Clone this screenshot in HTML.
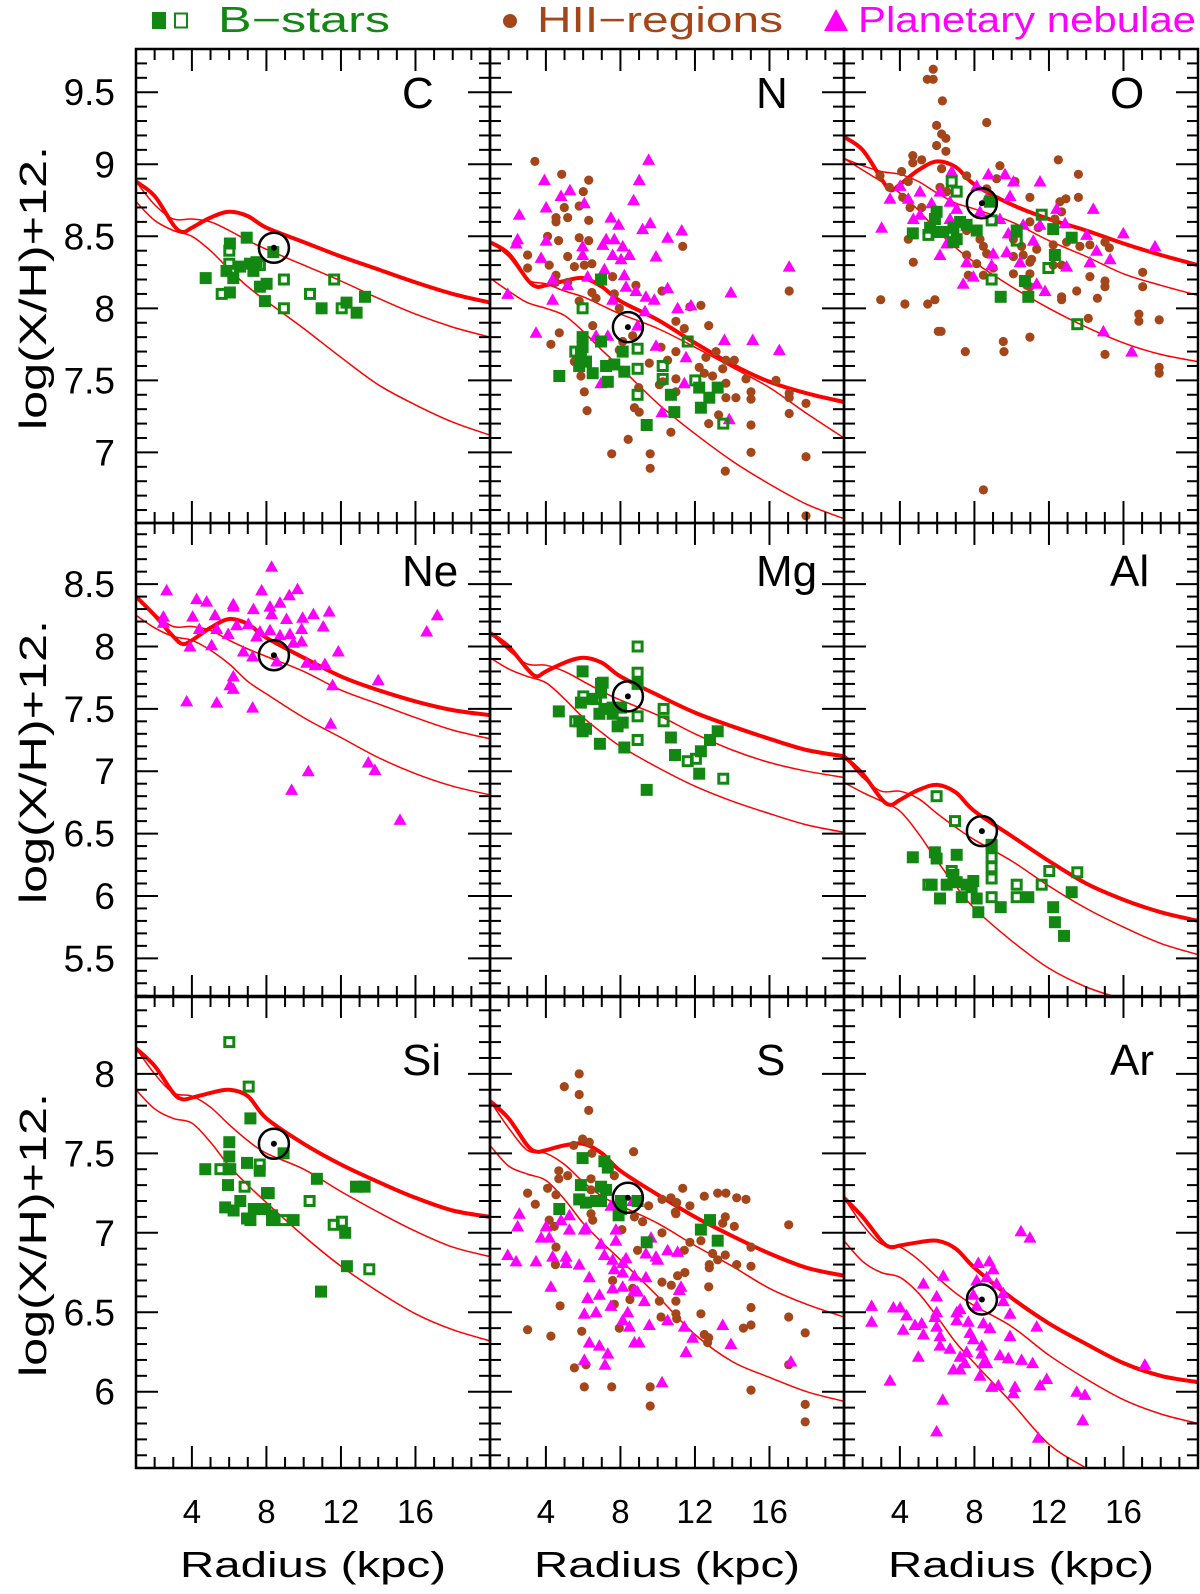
<!DOCTYPE html>
<html><head><meta charset="utf-8"><title>Galactic abundance gradients</title>
<style>
html,body{margin:0;padding:0;background:#fff;}
svg{display:block;font-family:"Liberation Sans",sans-serif;}
</style></head>
<body>
<svg id="chart" xmlns="http://www.w3.org/2000/svg" width="1200" height="1594" viewBox="0 0 1200 1594">
<rect x="0" y="0" width="1200" height="1594" fill="#fff"/>
<g>
  <g>
    <rect x="152" y="12" width="14" height="17" fill="#128812"/>
    <rect x="175" y="13.5" width="12" height="14" fill="none" stroke="#128812" stroke-width="2"/>
    <text x="218" y="32" font-size="36" fill="#128812" textLength="172" lengthAdjust="spacingAndGlyphs">B−stars</text>
  </g>
  <g>
    <circle cx="510" cy="21" r="7" fill="#a5461a"/>
    <text x="537" y="32" font-size="36" fill="#a5461a" textLength="246" lengthAdjust="spacingAndGlyphs">HII−regions</text>
  </g>
  <g>
    <polygon points="824,31 848,31 836,9" fill="#ff00ff"/>
    <text x="858" y="32" font-size="36" fill="#ff00ff" textLength="338" lengthAdjust="spacingAndGlyphs">Planetary nebulae</text>
  </g>
</g>
<g id="panels"></g>
</svg>
<script>
// ---------- model curve data ----------
const RADII_THICK = [1,2,3,3.5,4,5,6,7,8,10,12,14,16,18,20];
const RADII_THIN  = [1,2,3,4,5,6,7,8,10,12,14,16,18,20];

const C_THICK = [8.88,8.78,8.58,8.53,8.56,8.63,8.67,8.64,8.56,8.46,8.36,8.27,8.18,8.10,8.04];
const C_THIN1 = [8.88,8.72,8.62,8.62,8.60,8.54,8.47,8.41,8.30,8.19,8.07,7.96,7.87,7.80];
const C_THIN2 = [8.74,8.61,8.54,8.50,8.40,8.27,8.15,8.05,7.86,7.66,7.47,7.33,7.21,7.12];

const N_THICK = [8.46,8.38,8.20,8.15,8.16,8.19,8.21,8.15,8.05,7.92,7.76,7.61,7.49,7.41,7.35];
const N_THIN1 = [8.46,8.36,8.20,8.17,8.12,8.08,8.02,7.96,7.86,7.73,7.59,7.45,7.27,7.10];
const N_THIN2 = [8.21,8.12,8.04,8.00,7.95,7.84,7.71,7.59,7.34,7.13,6.94,6.78,6.64,6.54];

const O_THICK = [9.19,9.10,8.90,8.82,8.86,8.96,9.02,8.98,8.86,8.72,8.62,8.54,8.45,8.37,8.30];
const O_THIN1 = [9.04,8.99,8.95,8.93,8.88,8.80,8.73,8.69,8.60,8.47,8.36,8.24,8.16,8.09];
const O_THIN2 = [9.04,8.96,8.88,8.80,8.68,8.54,8.42,8.32,8.15,8.00,7.87,7.76,7.68,7.63];

const NE_THICK = [8.40,8.25,8.08,8.02,8.05,8.15,8.22,8.18,8.07,7.91,7.76,7.65,7.56,7.49,7.45];
const NE_THIN1 = [8.40,8.26,8.16,8.16,8.13,8.05,7.98,7.92,7.80,7.65,7.54,7.43,7.33,7.26];
const NE_THIN2 = [8.25,8.15,8.08,8.05,7.97,7.86,7.72,7.62,7.43,7.27,7.11,6.98,6.88,6.81];

const MG_THICK = [8.11,8.00,7.82,7.76,7.80,7.87,7.91,7.87,7.76,7.61,7.47,7.36,7.26,7.17,7.12];
const MG_THIN1 = [8.11,7.97,7.86,7.85,7.80,7.72,7.64,7.57,7.45,7.30,7.17,7.07,7.00,6.95];
const MG_THIN2 = [7.91,7.82,7.76,7.71,7.58,7.43,7.31,7.20,7.03,6.88,6.76,6.66,6.57,6.51];

const AL_THICK = [7.12,6.98,6.78,6.73,6.77,6.85,6.89,6.83,6.68,6.48,6.28,6.10,5.97,5.87,5.80];
const AL_THIN1 = [7.12,6.95,6.84,6.84,6.78,6.66,6.55,6.45,6.28,6.08,5.90,5.75,5.62,5.53];
const AL_THIN2 = [6.91,6.83,6.76,6.68,6.50,6.28,6.08,5.90,5.64,5.42,5.27,5.17,5.07,4.98];

const SI_THICK = [8.16,8.05,7.88,7.84,7.85,7.88,7.90,7.86,7.72,7.56,7.43,7.32,7.22,7.14,7.10];
const SI_THIN1 = [8.16,8.00,7.88,7.86,7.79,7.68,7.58,7.50,7.40,7.26,7.13,7.01,6.91,6.85];
const SI_THIN2 = [7.90,7.78,7.72,7.69,7.57,7.42,7.30,7.19,6.98,6.79,6.63,6.49,6.39,6.32];

const S_THICK = [7.83,7.72,7.55,7.51,7.52,7.55,7.56,7.50,7.39,7.24,7.10,6.98,6.87,6.78,6.73];
const S_THIN1 = [7.83,7.66,7.52,7.50,7.43,7.32,7.23,7.17,7.06,6.92,6.79,6.65,6.55,6.47];
const S_THIN2 = [7.55,7.42,7.37,7.33,7.21,7.06,6.94,6.83,6.60,6.36,6.19,6.09,6.00,5.94];

const AR_THICK = [7.22,7.10,6.95,6.91,6.92,6.94,6.95,6.90,6.78,6.59,6.43,6.30,6.18,6.10,6.06];
const AR_THIN1 = [7.22,7.05,6.93,6.91,6.83,6.72,6.62,6.54,6.41,6.23,6.08,5.95,5.86,5.80];
const AR_THIN2 = [6.95,6.82,6.75,6.72,6.62,6.47,6.31,6.18,5.93,5.67,5.52,5.40,5.30,5.22];

// ---------- solar values [radius, abundance] ----------
const SUN_C = [8.4,8.42], SUN_N = [8.4,7.87], SUN_O = [8.4,8.73];
const SUN_NE = [8.4,7.93], SUN_MG = [8.4,7.60], SUN_AL = [8.4,6.52];
const SUN_SI = [8.4,7.56], SUN_S = [8.4,7.22], SUN_AR = [8.4,6.58];

// ---------- observations [radius, abundance] ----------
const C_BFILL = [[4.74,8.21],[6.94,8.49],[6.04,8.45],[5.86,8.26],[6.22,8.21],[6.58,8.29],[7.12,8.31],[7.30,8.26],[7.47,8.32],[7.65,8.15],[8.01,8.17],[7.92,8.05],[8.37,8.39],[10.96,8.00],[12.30,8.04],[12.84,7.97],[13.29,8.08],[6.04,8.11]];
const C_BOPEN = [[6.01,8.40],[6.01,8.31],[5.60,8.10],[7.65,8.30],[8.94,8.20],[8.94,8.00],[10.34,8.10],[11.64,8.20],[12.04,8.00]];

const N_HII = [[3.41,9.02],[4.85,8.93],[6.30,8.89],[6.01,8.81],[4.99,8.70],[5.79,8.71],[4.54,8.63],[5.17,8.63],[4.54,8.60],[6.30,8.61],[4.09,8.50],[4.68,8.47],[5.79,8.49],[6.30,8.47],[3.02,8.37],[5.17,8.36],[3.02,8.28],[4.18,8.30],[5.53,8.29],[6.06,8.30],[6.47,8.31],[4.54,8.23],[4.51,8.18],[5.17,8.18],[7.58,8.22],[6.47,8.11],[6.69,8.07],[5.79,8.05],[7.67,8.10],[8.83,8.16],[10.23,8.12],[11.34,8.43],[11.73,8.01],[12.32,8.02],[7.94,8.00],[6.51,7.88],[4.72,7.83],[4.27,7.75],[10.98,7.91],[11.43,7.86],[12.74,7.88],[10.18,7.73],[10.98,7.70],[10.53,7.64],[9.55,7.62],[5.97,7.62],[5.53,7.63],[5.88,7.53],[8.12,7.57],[7.94,7.71],[8.12,7.77],[8.66,7.81],[12.59,7.66],[13.13,7.70],[13.66,7.64],[14.11,7.64],[12.23,7.59],[12.50,7.55],[12.95,7.53],[13.49,7.58],[13.66,7.48],[14.74,7.51],[10.27,7.49],[10.98,7.51],[10.09,7.47],[10.98,7.42],[10.71,7.40],[8.98,7.45],[6.06,7.42],[6.21,7.29],[8.75,7.31],[9.01,7.28],[13.66,7.38],[14.20,7.38],[15.01,7.42],[15.01,7.37],[16.35,7.50],[17.06,7.41],[17.06,7.38],[17.96,7.34],[13.27,7.26],[12.74,7.20],[15.01,7.19],[17.06,7.27],[17.06,8.12],[10.71,7.14],[8.42,7.09],[7.53,6.99],[9.60,6.99],[9.60,6.89],[13.63,6.87],[15.01,7.00],[17.96,6.97],[17.96,6.56]];
const N_PN = [[9.51,9.03],[3.92,8.89],[9.01,8.89],[5.29,8.82],[4.81,8.78],[4.01,8.70],[6.06,8.73],[8.71,8.75],[2.57,8.65],[7.49,8.63],[7.90,8.58],[9.19,8.55],[9.60,8.59],[11.29,8.54],[10.53,8.49],[2.48,8.48],[2.40,8.45],[3.74,8.35],[5.97,8.43],[7.23,8.48],[7.67,8.48],[7.05,8.44],[8.12,8.43],[5.97,8.37],[7.58,8.37],[8.48,8.37],[8.03,8.34],[9.91,8.36],[4.01,8.47],[5.17,8.16],[4.36,8.06],[7.14,8.27],[8.21,8.23],[8.30,8.15],[8.83,8.12],[10.53,8.14],[13.93,8.11],[1.95,8.10],[7.58,8.06],[9.37,8.08],[9.82,8.06],[11.07,8.00],[11.79,8.02],[9.32,7.98],[17.06,8.29],[3.47,7.83],[6.69,7.81],[7.32,7.81],[9.91,7.74],[11.52,7.66],[13.58,7.78],[15.10,7.78],[16.53,7.71],[6.96,7.48],[11.43,7.48],[10.23,7.28],[13.84,7.23],[8.92,7.88],[4.36,8.20],[6.24,8.22]];
const N_BFILL = [[5.97,7.80],[5.97,7.73],[5.88,7.68],[6.96,7.77],[6.15,7.63],[5.79,7.60],[6.51,7.55],[7.23,7.60],[7.67,7.61],[8.21,7.56],[4.72,7.53],[7.32,7.49],[10.71,7.40],[12.23,7.45],[13.22,7.45],[12.77,7.38],[12.32,7.31],[10.89,7.28],[9.41,7.19],[6.96,8.20],[8.12,7.70]];
const N_BOPEN = [[5.97,8.00],[6.96,8.20],[5.58,7.70],[8.92,7.72],[8.92,7.58],[8.92,7.40],[10.27,7.60],[10.27,7.51],[11.61,7.77],[12.02,7.50],[13.52,7.20]];

const O_HII = [[5.79,9.66],[5.47,9.59],[5.79,9.59],[6.28,9.44],[5.97,9.27],[6.24,9.21],[6.47,9.18],[5.97,9.13],[6.47,9.09],[8.66,9.29],[12.50,9.03],[4.69,9.06],[4.69,9.01],[5.17,9.03],[9.37,8.99],[13.58,8.93],[4.09,8.95],[2.93,8.92],[6.24,8.97],[7.58,8.92],[9.19,8.90],[10.18,8.88],[3.43,8.84],[4.45,8.88],[6.15,8.84],[6.51,8.81],[8.66,8.83],[10.98,8.77],[12.59,8.74],[12.91,8.76],[13.58,8.77],[4.15,8.77],[5.17,8.70],[4.54,8.70],[12.68,8.67],[12.32,8.62],[10.98,8.60],[11.43,8.56],[7.58,8.54],[8.30,8.48],[4.45,8.48],[8.48,8.43],[10.09,8.48],[10.53,8.43],[11.34,8.41],[12.23,8.44],[12.95,8.46],[13.66,8.43],[14.20,8.44],[15.01,8.46],[15.24,8.42],[7.58,8.37],[8.66,8.38],[10.09,8.36],[10.62,8.37],[11.07,8.34],[8.12,8.31],[9.01,8.28],[10.98,8.32],[12.23,8.30],[12.68,8.30],[4.72,8.32],[7.67,8.23],[8.48,8.23],[10.09,8.24],[10.98,8.24],[10.80,8.16],[10.98,8.15],[14.20,8.22],[15.01,8.19],[15.01,8.15],[17.03,8.25],[17.03,8.15],[13.49,8.12],[12.68,8.08],[12.68,8.06],[14.60,8.07],[2.97,8.06],[4.27,8.03],[5.49,8.03],[5.88,8.06],[14.11,7.93],[16.83,7.96],[16.83,7.91],[17.92,7.92],[6.06,7.84],[6.21,7.84],[9.55,7.77],[10.98,7.80],[7.51,7.70],[9.59,7.70],[15.01,7.68],[17.92,7.59],[17.92,7.55],[8.48,6.74]];
const O_PN = [[6.78,8.95],[8.75,8.93],[9.64,8.93],[11.52,8.88],[10.09,8.88],[4.01,8.85],[3.47,8.76],[4.45,8.76],[5.08,8.81],[6.15,8.81],[8.12,8.85],[9.91,8.78],[12.41,8.69],[14.38,8.69],[3.02,8.56],[4.72,8.62],[5.08,8.65],[7.05,8.69],[6.69,8.62],[8.30,8.67],[8.66,8.76],[9.37,8.62],[10.62,8.58],[11.52,8.58],[12.86,8.59],[14.02,8.51],[15.99,8.52],[17.69,8.43],[14.56,8.40],[15.28,8.34],[14.20,8.32],[12.95,8.29],[10.45,8.32],[9.01,8.38],[7.58,8.32],[6.15,8.37],[6.51,8.45],[9.73,8.39],[11.16,8.47],[8.92,8.30],[7.94,8.22],[7.40,8.17],[11.34,8.17],[11.79,8.12],[9.82,8.52],[14.92,7.84],[16.44,7.70],[5.70,8.73],[6.69,8.74]];
const O_BFILL = [[5.97,8.67],[5.88,8.62],[5.62,8.56],[5.97,8.53],[6.33,8.53],[6.87,8.56],[7.23,8.60],[7.05,8.48],[7.58,8.58],[8.12,8.54],[4.69,8.52],[6.87,8.46],[10.27,8.54],[12.23,8.55],[13.22,8.49],[12.32,8.37],[10.71,8.19],[9.41,8.08],[10.89,8.08],[8.83,8.74]];
const O_BOPEN = [[6.78,8.88],[7.05,8.81],[8.92,8.61],[5.53,8.51],[10.27,8.47],[11.61,8.65],[11.97,8.28],[8.92,8.20],[13.52,7.89]];

const NE_PN = [[2.64,8.45],[4.25,8.38],[4.79,8.36],[6.22,8.34],[8.28,8.64],[7.74,8.45],[9.67,8.46],[9.23,8.41],[8.73,8.35],[8.19,8.32],[7.30,8.30],[6.22,8.32],[11.37,8.28],[10.52,8.26],[9.94,8.23],[9.08,8.22],[8.28,8.26],[5.24,8.25],[4.04,8.24],[2.47,8.24],[2.47,8.19],[4.40,8.14],[5.33,8.14],[5.95,8.10],[6.40,8.17],[7.03,8.18],[7.65,8.12],[8.19,8.13],[8.73,8.09],[9.26,8.10],[9.89,8.14],[11.05,8.16],[7.47,8.08],[9.44,8.03],[9.89,8.04],[5.06,8.01],[3.90,8.00],[6.76,7.96],[7.26,7.92],[11.86,7.96],[10.16,7.87],[10.61,7.85],[11.14,7.86],[8.55,7.88],[6.22,7.76],[6.04,7.69],[6.22,7.66],[14.00,7.73],[11.55,7.69],[3.72,7.56],[5.33,7.55],[7.26,7.51],[11.45,7.38],[13.47,7.07],[13.82,7.01],[10.25,7.00],[9.35,6.85],[15.17,6.61],[16.60,8.12],[17.17,8.25]];

const MG_BFILL = [[5.97,7.80],[4.69,7.48],[7.05,7.71],[6.96,7.63],[5.88,7.55],[6.51,7.58],[6.87,7.46],[7.14,7.50],[7.58,7.51],[8.03,7.51],[7.58,7.46],[8.12,7.39],[7.85,7.36],[5.79,7.40],[5.97,7.32],[6.15,7.34],[6.90,7.22],[8.21,7.19],[10.71,7.27],[10.93,7.13],[12.32,7.16],[12.81,7.25],[13.22,7.32],[12.23,6.98],[9.41,6.85],[8.92,7.70]];
const MG_BOPEN = [[8.92,8.00],[8.92,7.79],[8.92,7.44],[8.92,7.25],[10.32,7.50],[10.32,7.40],[6.01,7.60],[5.58,7.40],[6.96,7.70],[6.69,7.58],[11.61,7.08],[12.05,7.10],[13.52,6.94]];

const AL_BFILL = [[4.69,6.31],[5.88,6.35],[5.97,6.30],[7.05,6.33],[6.15,5.98],[6.87,6.17],[7.05,6.11],[7.32,5.99],[7.58,6.09],[7.94,6.12],[7.85,6.07],[8.12,5.98],[8.21,5.87],[9.41,5.91],[10.89,5.99],[12.23,5.91],[12.32,5.79],[12.81,5.68],[13.22,6.03],[6.51,6.09],[5.70,6.09],[8.92,6.41]];
const AL_BOPEN = [[5.97,6.80],[6.96,6.60],[8.92,6.40],[8.92,6.31],[8.92,6.23],[8.92,6.14],[8.92,5.99],[6.78,6.20],[5.53,6.09],[10.27,6.09],[10.27,5.99],[11.61,6.09],[12.02,6.20],[13.52,6.19]];

const SI_BFILL = [[7.14,7.72],[6.01,7.57],[6.01,7.48],[4.72,7.40],[6.96,7.44],[7.64,7.39],[5.97,7.40],[5.94,7.30],[8.03,7.25],[8.12,7.25],[10.71,7.34],[12.81,7.29],[13.27,7.29],[5.79,7.16],[6.24,7.14],[6.60,7.20],[6.96,7.09],[7.14,7.08],[7.32,7.15],[7.94,7.15],[8.30,7.11],[8.30,7.08],[9.46,7.08],[12.23,7.00],[12.32,6.79],[10.93,6.63],[8.92,7.50]];
const SI_BOPEN = [[6.01,8.20],[7.05,7.92],[5.53,7.40],[6.06,7.40],[7.64,7.43],[6.83,7.29],[10.32,7.20],[8.92,7.08],[11.61,7.05],[12.05,7.07],[13.52,6.77]];

const S_HII = [[5.79,8.00],[4.99,7.92],[5.79,7.87],[6.30,7.77],[5.97,7.59],[6.33,7.57],[5.49,7.55],[6.47,7.50],[8.71,7.51],[4.69,7.39],[5.17,7.36],[4.69,7.34],[7.67,7.36],[3.02,7.25],[4.09,7.28],[4.54,7.24],[3.43,7.18],[6.42,7.34],[6.42,7.27],[11.34,7.28],[12.50,7.23],[13.22,7.25],[13.66,7.25],[14.24,7.22],[14.74,7.21],[10.23,7.21],[10.71,7.22],[11.02,7.19],[11.73,7.17],[9.51,7.17],[10.95,7.13],[10.98,7.12],[8.75,7.10],[9.19,7.07],[4.18,7.08],[4.45,7.04],[6.42,7.12],[6.51,7.08],[8.08,7.02],[13.63,7.10],[13.49,7.06],[14.11,7.04],[17.03,7.05],[10.23,7.00],[12.32,6.95],[11.73,6.94],[11.43,6.89],[8.92,6.89],[4.54,6.91],[15.01,6.91],[12.95,6.87],[13.63,6.86],[13.22,6.83],[12.77,6.80],[12.77,6.78],[14.24,6.80],[15.01,6.79],[4.51,6.80],[11.07,6.73],[11.46,6.75],[7.58,6.70],[10.23,6.69],[10.73,6.67],[12.74,6.66],[8.66,6.65],[8.51,6.58],[10.09,6.57],[10.98,6.57],[4.76,6.54],[7.67,6.55],[15.01,6.53],[10.98,6.49],[12.32,6.49],[10.18,6.47],[17.03,6.47],[11.02,6.46],[15.01,6.42],[14.60,6.40],[3.02,6.39],[4.27,6.35],[5.92,6.38],[12.50,6.36],[12.74,6.34],[12.68,6.31],[17.92,6.37],[6.15,6.17],[5.53,6.15],[6.06,6.03],[7.53,6.03],[9.60,6.03],[9.60,5.91],[15.01,6.01],[17.03,6.17],[17.92,5.92],[17.92,5.81],[7.94,6.40]];
const S_PN = [[2.57,7.12],[2.48,7.04],[4.81,7.08],[5.26,7.11],[4.01,7.04],[3.74,6.97],[4.18,6.97],[5.26,7.02],[6.06,7.02],[6.15,7.03],[7.76,7.02],[7.76,6.95],[6.96,6.93],[1.95,6.86],[2.40,6.82],[3.47,6.82],[4.36,6.85],[5.08,6.85],[5.08,6.81],[5.79,6.80],[6.33,6.72],[7.14,6.86],[7.58,6.83],[7.67,6.77],[8.12,6.81],[8.30,6.84],[8.12,6.75],[8.75,6.73],[9.37,6.72],[9.64,6.97],[9.91,6.85],[10.00,6.83],[9.37,6.87],[10.53,6.89],[11.07,6.88],[4.27,6.66],[6.24,6.59],[6.87,6.61],[7.58,6.65],[8.12,6.66],[8.75,6.64],[9.28,6.57],[8.92,6.63],[11.16,6.64],[11.25,6.66],[6.06,6.49],[6.69,6.50],[7.49,6.54],[8.12,6.45],[8.39,6.50],[8.48,6.41],[8.75,6.31],[9.01,6.31],[9.55,6.42],[10.53,6.45],[11.43,6.41],[11.88,6.34],[11.52,6.25],[13.49,6.42],[13.93,6.30],[6.33,6.31],[6.87,6.29],[7.32,6.24],[6.06,6.20],[7.17,6.17],[10.23,6.06],[17.15,6.19],[8.66,7.20],[7.49,7.17]];
const S_BFILL = [[5.97,7.47],[7.14,7.45],[7.32,7.41],[5.88,7.30],[6.96,7.29],[7.23,7.27],[5.79,7.21],[6.15,7.19],[6.69,7.20],[6.96,7.20],[8.03,7.20],[8.03,7.15],[4.72,7.15],[7.90,7.11],[12.32,7.02],[12.81,7.08],[13.22,6.95],[9.41,6.94],[8.92,7.20]];

const AR_PN = [[10.50,7.01],[10.98,6.97],[8.21,6.81],[8.80,6.82],[9.01,6.77],[8.66,6.72],[8.12,6.70],[6.33,6.73],[5.26,6.68],[9.19,6.68],[5.97,6.60],[9.55,6.62],[9.55,6.57],[7.94,6.61],[8.12,6.54],[2.48,6.54],[3.65,6.53],[4.01,6.53],[4.36,6.48],[5.97,6.50],[5.88,6.47],[7.05,6.50],[7.23,6.52],[9.91,6.49],[2.48,6.44],[4.18,6.39],[4.81,6.42],[5.26,6.36],[5.17,6.43],[5.97,6.41],[6.15,6.35],[7.05,6.45],[7.67,6.44],[7.76,6.37],[8.48,6.43],[8.83,6.40],[9.91,6.35],[11.34,6.41],[6.15,6.29],[6.69,6.27],[7.94,6.33],[8.39,6.29],[8.39,6.24],[7.58,6.25],[7.23,6.22],[7.49,6.18],[6.87,6.14],[7.23,6.14],[8.48,6.18],[8.66,6.18],[9.37,6.23],[9.82,6.21],[10.53,6.20],[11.12,6.18],[4.99,6.22],[8.30,6.10],[8.92,6.03],[9.28,6.04],[10.18,6.03],[10.09,5.99],[11.52,6.04],[11.88,6.08],[13.49,6.00],[13.93,5.98],[3.47,6.07],[6.30,5.95],[13.81,5.82],[5.97,5.75],[11.43,5.71],[17.15,6.17]];

// ---------- layout ----------
const COL_LEFT = [136, 490, 844];
const PANEL_W = 354;
const R_MIN = 1, R_MAX = 20;
const ROWS = [
  {top:49,  bot:523, vTop:9.80, vBot:6.51, tMin:6.6, tMax:9.8, labels:[7,7.5,8,8.5,9,9.5], nameBase:108},
  {top:523, bot:997, vTop:8.99, vBot:5.19, tMin:5.2, tMax:8.9, labels:[5.5,6,6.5,7,7.5,8,8.5], nameBase:586},
  {top:996, bot:1468,vTop:8.49, vBot:5.52, tMin:5.6, tMax:8.4, labels:[6,6.5,7,7.5,8], nameBase:1075}
];
const X_TICK_LABELS = [4, 8, 12, 16];

const PANELS = [
  {el:'C',  row:0,col:0,thick:C_THICK, thin1:C_THIN1, thin2:C_THIN2, sun:SUN_C, bfill:C_BFILL, bopen:C_BOPEN, hii:[], pn:[]},
  {el:'N',  row:0,col:1,thick:N_THICK, thin1:N_THIN1, thin2:N_THIN2, sun:SUN_N, bfill:N_BFILL, bopen:N_BOPEN, hii:N_HII, pn:N_PN},
  {el:'O',  row:0,col:2,thick:O_THICK, thin1:O_THIN1, thin2:O_THIN2, sun:SUN_O, bfill:O_BFILL, bopen:O_BOPEN, hii:O_HII, pn:O_PN},
  {el:'Ne', row:1,col:0,thick:NE_THICK,thin1:NE_THIN1,thin2:NE_THIN2,sun:SUN_NE,bfill:[], bopen:[], hii:[], pn:NE_PN},
  {el:'Mg', row:1,col:1,thick:MG_THICK,thin1:MG_THIN1,thin2:MG_THIN2,sun:SUN_MG,bfill:MG_BFILL,bopen:MG_BOPEN,hii:[], pn:[]},
  {el:'Al', row:1,col:2,thick:AL_THICK,thin1:AL_THIN1,thin2:AL_THIN2,sun:SUN_AL,bfill:AL_BFILL,bopen:AL_BOPEN,hii:[], pn:[]},
  {el:'Si', row:2,col:0,thick:SI_THICK,thin1:SI_THIN1,thin2:SI_THIN2,sun:SUN_SI,bfill:SI_BFILL,bopen:SI_BOPEN,hii:[], pn:[]},
  {el:'S',  row:2,col:1,thick:S_THICK, thin1:S_THIN1, thin2:S_THIN2, sun:SUN_S, bfill:S_BFILL, bopen:[], hii:S_HII, pn:S_PN},
  {el:'Ar', row:2,col:2,thick:AR_THICK,thin1:AR_THIN1,thin2:AR_THIN2,sun:SUN_AR,bfill:[], bopen:[], hii:[], pn:AR_PN}
];

const NS = 'http://www.w3.org/2000/svg';
const root = document.getElementById('panels');
const GREEN = '#128812', BROWN = '#a5461a', MAGENTA = '#ff00ff', RED = '#ff0000';

function mk(tag, attrs, parent) {
  const e = document.createElementNS(NS, tag);
  for (const k in attrs) e.setAttribute(k, attrs[k]);
  if (parent) parent.appendChild(e);
  return e;
}
function xScale(col, r) { return COL_LEFT[col] + (r - R_MIN) / (R_MAX - R_MIN) * PANEL_W; }
function yScale(row, v) { const R = ROWS[row]; return R.top + (R.vTop - v) / (R.vTop - R.vBot) * (R.bot - R.top); }
function fmt(v) { return (Math.round(v*100)/100).toString(); }

function smoothPath(pts) {
  let d = 'M' + pts[0][0].toFixed(1) + ',' + pts[0][1].toFixed(1);
  for (let i = 0; i < pts.length - 1; i++) {
    const p0 = pts[Math.max(0, i-1)], p1 = pts[i], p2 = pts[i+1], p3 = pts[Math.min(pts.length-1, i+2)];
    const c1x = p1[0] + (p2[0]-p0[0])/6, c1y = p1[1] + (p2[1]-p0[1])/6;
    const c2x = p2[0] - (p3[0]-p1[0])/6, c2y = p2[1] - (p3[1]-p1[1])/6;
    d += ' C' + c1x.toFixed(1)+','+c1y.toFixed(1)+' '+c2x.toFixed(1)+','+c2y.toFixed(1)+' '+p2[0].toFixed(1)+','+p2[1].toFixed(1);
  }
  return d;
}

const defs = mk('defs', {}, document.getElementById('chart'));

PANELS.forEach(function(P, idx) {
  const R = ROWS[P.row];
  const x0 = COL_LEFT[P.col], x1 = x0 + PANEL_W;
  const g = mk('g', {}, root);
  
  

  const cp = mk('clipPath', {id: 'clip' + idx}, defs);
  mk('rect', {x: x0, y: R.top, width: PANEL_W, height: R.bot - R.top}, cp);

  // model curves
  const curves = mk('g', {'clip-path': 'url(#clip' + idx + ')'}, g);
  
  
  [['thin2', RADII_THIN, P.thin2, 1.5], ['thin1', RADII_THIN, P.thin1, 1.5], ['thick', RADII_THICK, P.thick, 4]].forEach(function(c) {
    const pts = c[1].map(function(r, i) { return [xScale(P.col, r), yScale(P.row, c[2][i])]; });
    const path = mk('path', {d: smoothPath(pts), fill: 'none', stroke: RED, 'stroke-width': c[3], 'stroke-linejoin': 'round'}, curves);
    
    
  });

  // points
  const pg = mk('g', {'clip-path': 'url(#clip' + idx + ')'}, g);
  
  
  P.hii.forEach(function(p) {
    const c = mk('circle', {cx: xScale(P.col, p[0]).toFixed(1), cy: yScale(P.row, p[1]).toFixed(1), r: 4.6, fill: BROWN}, pg);
    
    
  });
  P.pn.forEach(function(p) {
    const x = xScale(P.col, p[0]), y = yScale(P.row, p[1]);
    const t = mk('polygon', {points: (x-6.5).toFixed(1)+','+(y+5).toFixed(1)+' '+(x+6.5).toFixed(1)+','+(y+5).toFixed(1)+' '+x.toFixed(1)+','+(y-6.5).toFixed(1), fill: MAGENTA}, pg);
    
    
  });
  P.bfill.forEach(function(p) {
    const x = xScale(P.col, p[0]), y = yScale(P.row, p[1]);
    const s = mk('rect', {x: (x-6).toFixed(1), y: (y-6).toFixed(1), width: 12, height: 12, fill: GREEN}, pg);
    
    
  });
  P.bopen.forEach(function(p) {
    const x = xScale(P.col, p[0]), y = yScale(P.row, p[1]);
    const s = mk('rect', {x: (x-4.5).toFixed(1), y: (y-4.5).toFixed(1), width: 9, height: 9, fill: 'none', stroke: GREEN, 'stroke-width': 3}, pg);
    
    
  });

  // sun symbol
  const sx = xScale(P.col, P.sun[0]), sy = yScale(P.row, P.sun[1]);
  const sg = mk('g', {}, g);
  
  
  mk('circle', {cx: sx.toFixed(1), cy: sy.toFixed(1), r: 15, fill: 'none', stroke: '#000', 'stroke-width': 2.5}, sg);
  mk('circle', {cx: sx.toFixed(1), cy: sy.toFixed(1), r: 3, fill: '#000'}, sg);

  // ticks
  const tg = mk('g', {stroke: '#000', 'stroke-width': 2}, g);
  
  
  for (let r = 2; r <= 19; r++) {
    const x = xScale(P.col, r), L = (r % 4 === 0) ? 22 : 11;
    mk('line', {x1: x, y1: R.bot, x2: x, y2: R.bot - L}, tg);
    mk('line', {x1: x, y1: R.top, x2: x, y2: R.top + L}, tg);
  }
  for (let k = Math.round(R.tMin*10); k <= Math.round(R.tMax*10); k++) {
    const y = yScale(P.row, k/10), L = (k % 5 === 0) ? 22 : 11;
    mk('line', {x1: x0, y1: y, x2: x0 + L, y2: y}, tg);
    mk('line', {x1: x1, y1: y, x2: x1 - L, y2: y}, tg);
  }

  // frame
  const fr = mk('rect', {x: x0, y: R.top, width: PANEL_W, height: R.bot - R.top, fill: 'none', stroke: '#000', 'stroke-width': 2.5}, g);
  
  

  // element label
  const lab = mk('text', {x: x0 + 266, y: R.nameBase, 'font-size': 44, fill: '#000'}, g);
  lab.textContent = P.el;
  
  

  // y tick labels (left column)
  if (P.col === 0) {
    R.labels.forEach(function(v) {
      const t = mk('text', {x: 115, y: (yScale(P.row, v) + 13).toFixed(1), 'font-size': 37, 'text-anchor': 'end', fill: '#000'}, g);
      t.textContent = fmt(v);
      
      
    });
    const cy = R.top + 239;
    const yl = mk('text', {x: 0, y: 0, 'font-size': 38, 'text-anchor': 'middle', fill: '#000', transform: 'translate(46,' + cy + ') rotate(-90)', textLength: 284, lengthAdjust: 'spacingAndGlyphs'}, g);
    yl.textContent = 'log(X/H)+12.';
    
    
  }
  // x tick labels (bottom row)
  if (P.row === 2) {
    X_TICK_LABELS.forEach(function(v) {
      const t = mk('text', {x: xScale(P.col, v).toFixed(1), y: 1523, 'font-size': 33, 'text-anchor': 'middle', fill: '#000'}, g);
      t.textContent = v;
      
      
    });
    const xl = mk('text', {x: x0 + PANEL_W/2, y: 1577, 'font-size': 36, 'text-anchor': 'middle', fill: '#000', textLength: 266, lengthAdjust: 'spacingAndGlyphs'}, g);
    xl.textContent = 'Radius (kpc)';
    
    
  }
});
</script>
</body></html>
